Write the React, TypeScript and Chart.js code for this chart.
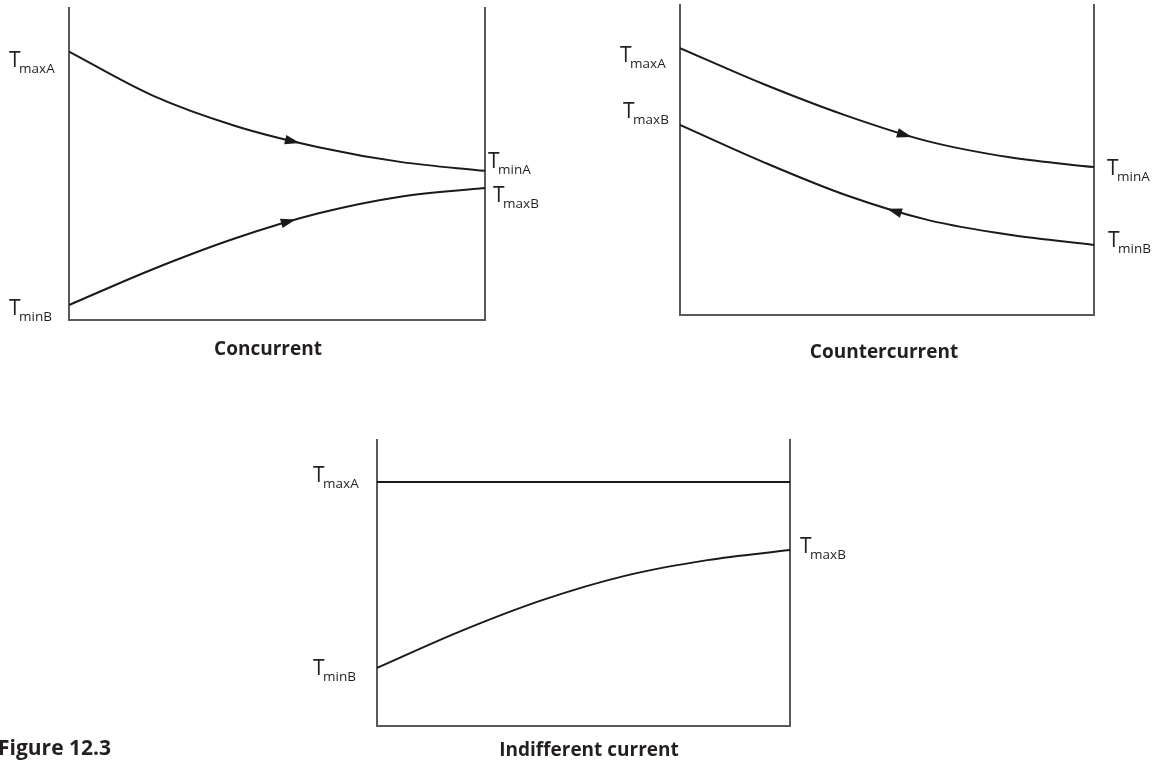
import React, { useEffect, useRef } from "react";
import { Chart, registerables } from "chart.js";

Chart.register(...registerables);

// ---------- data ----------
const positions = [0, 2, 4, 6, 8, 10];

// Concurrent
const concurrentA = [86, 72, 62.2, 55.4, 50.6, 47.8];
const concurrentB = [4.8, 16.2, 26.2, 34.2, 39.6, 42.3];
// Countercurrent
const counterA = [86.1, 74.6, 64.4, 56.0, 50.8, 47.7];
const counterB = [61.3, 49.4, 38.7, 30.6, 25.8, 22.6];
// Indifferent current
const indifferentA = [85.3, 85.3, 85.3, 85.3, 85.3, 85.3];
const indifferentB = [20.3, 33.0, 44.0, 52.5, 58.0, 61.5];

const titles = ["Concurrent", "Countercurrent", "Indifferent current"];
const figureCaption = "Figure 12.3";

// ---------- style ----------
const FONT = "'Open Sans', 'Noto Sans', 'DejaVu Sans', sans-serif";
const INK = "#231f20";
const LINE = "#1a1a1a";
const AXIS = "#58595b";

type LabelSpec = { main: string; sub: string; series: number; end: "start" | "end"; dx: number; dy: number };
type ArrowSpec = { series: number; at: number; dir: number };
type PanelSpec = {
  box: { left: number; top: number; width: number; height: number };
  pad: { left: number; top: number; right: number; bottom: number };
  series: number[][];
  labels: LabelSpec[];
  arrows: ArrowSpec[];
  title: string;
  titleDx: number;
  titleDy: number;
  extra?: { text: string; x: number; y: number; font: string }[];
};

const panels: PanelSpec[] = [
  {
    box: { left: 0, top: 0, width: 580, height: 380 },
    pad: { left: 69, top: 8, right: 95, bottom: 60 },
    series: [concurrentA, concurrentB],
    labels: [
      { main: "T", sub: "maxA", series: 0, end: "start", dx: -60, dy: 15 },
      { main: "T", sub: "minB", series: 1, end: "start", dx: -60, dy: 10 },
      { main: "T", sub: "minA", series: 0, end: "end", dx: 3, dy: -3 },
      { main: "T", sub: "maxB", series: 1, end: "end", dx: 8, dy: 14 },
    ],
    arrows: [
      { series: 0, at: 5.55, dir: 1 },
      { series: 1, at: 5.45, dir: 1 },
    ],
    title: titles[0],
    titleDx: -9,
    titleDy: 35,
  },
  {
    box: { left: 580, top: 0, width: 575, height: 380 },
    pad: { left: 100, top: 5, right: 61, bottom: 65 },
    series: [counterA, counterB],
    labels: [
      { main: "T", sub: "maxA", series: 0, end: "start", dx: -60, dy: 14 },
      { main: "T", sub: "maxB", series: 1, end: "start", dx: -57, dy: -7 },
      { main: "T", sub: "minA", series: 0, end: "end", dx: 13, dy: 8 },
      { main: "T", sub: "minB", series: 1, end: "end", dx: 14, dy: 2 },
    ],
    arrows: [
      { series: 0, at: 5.6, dir: 1 },
      { series: 1, at: 5.0, dir: -1 },
    ],
    title: titles[1],
    titleDx: -3,
    titleDy: 43,
  },
  {
    box: { left: 0, top: 430, width: 880, height: 331 },
    pad: { left: 377, top: 10, right: 90, bottom: 35 },
    series: [indifferentA, indifferentB],
    labels: [
      { main: "T", sub: "maxA", series: 0, end: "start", dx: -64, dy: 0 },
      { main: "T", sub: "minB", series: 1, end: "start", dx: -64, dy: 7 },
      { main: "T", sub: "maxB", series: 1, end: "end", dx: 10, dy: 3 },
    ],
    arrows: [],
    title: titles[2],
    titleDx: 5.5,
    titleDy: 30,
    extra: [{ text: figureCaption, x: -2, y: 325, font: `bold 21px ${FONT}` }],
  },
];

// ---------- plugin ----------
function bez(t: number, a0: number, a1: number, a2: number, a3: number) {
  const u = 1 - t;
  return u * u * u * a0 + 3 * u * u * t * a1 + 3 * u * t * t * a2 + t * t * t * a3;
}
function bezD(t: number, a0: number, a1: number, a2: number, a3: number) {
  const u = 1 - t;
  return 3 * u * u * (a1 - a0) + 6 * u * t * (a2 - a1) + 3 * t * t * (a3 - a2);
}

const annotate = {
  id: "annotate",
  afterDatasetsDraw(chart: any, _args: any, opts: any) {
    const { ctx } = chart;
    const xs = chart.scales.x;
    ctx.save();
    ctx.fillStyle = LINE;
    for (const a of (opts.arrows || []) as ArrowSpec[]) {
      const pts = chart.getDatasetMeta(a.series).data as any[];
      const target = xs.getPixelForValue(a.at);
      let P: any = null;
      let D: any = null;
      for (let i = 0; i < pts.length - 1; i++) {
        const p0 = pts[i];
        const p1 = pts[i + 1];
        if (target < p0.x || target > p1.x) continue;
        const c1x = p0.cp2x ?? p0.x, c1y = p0.cp2y ?? p0.y;
        const c2x = p1.cp1x ?? p1.x, c2y = p1.cp1y ?? p1.y;
        let lo = 0, hi = 1;
        for (let k = 0; k < 50; k++) {
          const m = (lo + hi) / 2;
          if (bez(m, p0.x, c1x, c2x, p1.x) < target) lo = m;
          else hi = m;
        }
        const t = (lo + hi) / 2;
        P = { x: bez(t, p0.x, c1x, c2x, p1.x), y: bez(t, p0.y, c1y, c2y, p1.y) };
        D = { x: bezD(t, p0.x, c1x, c2x, p1.x), y: bezD(t, p0.y, c1y, c2y, p1.y) };
        break;
      }
      if (!P) continue;
      let ang = Math.atan2(D.y, D.x);
      if (a.dir < 0) ang += Math.PI;
      const L = 15, W = 4.8;
      const c = Math.cos(ang), s = Math.sin(ang);
      const bx = P.x - L * c, by = P.y - L * s;
      ctx.beginPath();
      ctx.moveTo(P.x, P.y);
      ctx.lineTo(bx - W * s, by + W * c);
      ctx.lineTo(bx + W * s, by - W * c);
      ctx.closePath();
      ctx.fill();
    }
    ctx.restore();
  },
  afterDraw(chart: any, _args: any, opts: any) {
    const { ctx, chartArea } = chart;
    const ys = chart.scales.y;
    ctx.save();
    ctx.fillStyle = INK;
    ctx.textBaseline = "alphabetic";
    ctx.textAlign = "left";
    for (const l of (opts.labels || []) as LabelSpec[]) {
      const ds = chart.data.datasets[l.series].data as any[];
      const v = l.end === "start" ? ds[0].y : ds[ds.length - 1].y;
      const y = ys.getPixelForValue(v) + l.dy;
      const x = (l.end === "start" ? chartArea.left : chartArea.right) + l.dx;
      ctx.font = `21px ${FONT}`;
      ctx.fillText(l.main, x, y);
      const w = ctx.measureText(l.main).width;
      ctx.font = `13.5px ${FONT}`;
      ctx.fillText(l.sub, x + w - 1.5, y + 6);
    }
    ctx.font = `bold 19px ${FONT}`;
    ctx.textAlign = "center";
    ctx.fillText(opts.title, (chartArea.left + chartArea.right) / 2 + opts.titleDx, chartArea.bottom + opts.titleDy);
    for (const e of opts.extra || []) {
      ctx.font = e.font;
      ctx.textAlign = "left";
      ctx.fillText(e.text, e.x, e.y);
    }
    ctx.restore();
  },
};

// ---------- component ----------
function Panel({ spec }: { spec: PanelSpec }) {
  const ref = useRef<HTMLCanvasElement | null>(null);
  useEffect(() => {
    if (!ref.current) return;
    const hidden = {
      ticks: { display: false },
      grid: { display: false, drawTicks: false },
      border: { display: true, color: AXIS, width: 2 },
    };
    const chart = new Chart(ref.current, {
      type: "line",
      data: {
        datasets: spec.series.map((vals) => ({
          data: positions.map((x, i) => ({ x, y: vals[i] })),
          borderColor: LINE,
          borderWidth: 2,
          pointRadius: 0,
          cubicInterpolationMode: "monotone" as const,
          fill: false,
        })),
      },
      options: {
        responsive: false,
        animation: false,
        events: [],
        layout: { padding: spec.pad },
        scales: {
          x: { type: "linear", min: 0, max: 10, position: "bottom", ...hidden },
          y: { type: "linear", min: 0, max: 100, position: "left", ...hidden },
          y2: { type: "linear", min: 0, max: 100, position: "right", display: true, ...hidden },
        },
        plugins: {
          legend: { display: false },
          tooltip: { enabled: false },
          title: { display: false },
          annotate: {
            labels: spec.labels,
            arrows: spec.arrows,
            title: spec.title,
            titleDx: spec.titleDx,
            titleDy: spec.titleDy,
            extra: spec.extra || [],
          },
        } as any,
      },
      plugins: [annotate],
    } as any);
    return () => chart.destroy();
  }, [spec]);
  const { left, top, width, height } = spec.box;
  return (
    <canvas
      ref={ref}
      width={width}
      height={height}
      style={{ position: "absolute", left, top, width, height }}
    />
  );
}

export default function App() {
  return (
    <div style={{ position: "absolute", left: 0, top: 0, width: 1155, height: 761, background: "#fff" }}>
      {panels.map((p, i) => (
        <Panel key={i} spec={p} />
      ))}
    </div>
  );
}
